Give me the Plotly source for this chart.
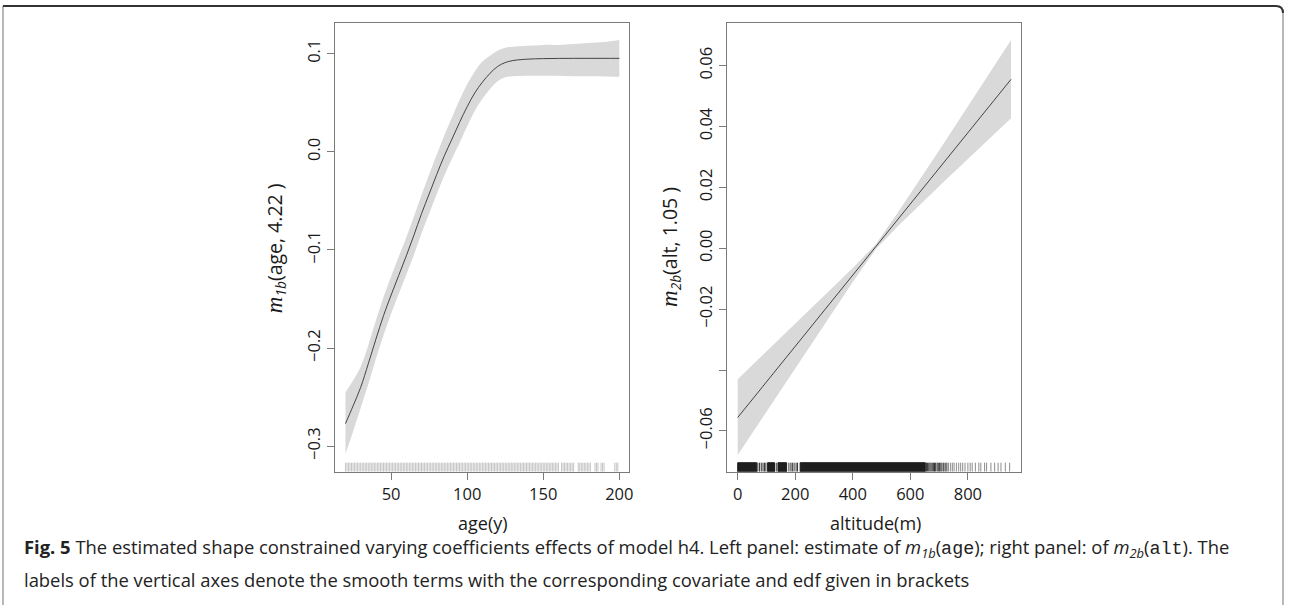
import plotly.graph_objects as go

# ---------------- data: left panel (age) ----------------
age = [20, 25, 30, 35, 40, 45, 50, 55, 60, 65, 70, 75, 80, 85, 90, 95, 100,
       105, 110, 115, 120, 125, 130, 140, 150, 160, 170, 180, 190, 200]
age_fit = [-0.277, -0.259, -0.240, -0.216, -0.191, -0.167, -0.146, -0.126, -0.106,
           -0.085, -0.063, -0.043, -0.023, -0.004, 0.013, 0.030, 0.046, 0.060, 0.071,
           0.080, 0.087, 0.091, 0.093, 0.0945, 0.095, 0.0952, 0.0953, 0.0953, 0.0953, 0.0953]
age_upper = [-0.245, -0.233, -0.219, -0.197, -0.172, -0.148, -0.127, -0.107, -0.087,
             -0.066, -0.044, -0.023, -0.003, 0.017, 0.035, 0.053, 0.069, 0.082, 0.092,
             0.098, 0.103, 0.106, 0.107, 0.108, 0.109, 0.109, 0.110, 0.111, 0.112, 0.114]
age_lower = [-0.308, -0.285, -0.261, -0.237, -0.211, -0.187, -0.165, -0.145, -0.125,
             -0.105, -0.083, -0.063, -0.043, -0.024, -0.007, 0.009, 0.026, 0.042, 0.054,
             0.064, 0.072, 0.076, 0.077, 0.0775, 0.0776, 0.0775, 0.077, 0.077, 0.0768, 0.0766]
# runs of consecutive observed (integer) ages in the rug
age_rug_runs = [(20, 160), (162, 170), (173, 181), (184, 186), (188, 190), (197, 199)]

# ---------------- data: right panel (altitude) ----------------
alt = [0, 240, 400, 480, 560, 720, 950]
alt_fit = [-0.0556, -0.0275, -0.0088, 0.0005, 0.0099, 0.0286, 0.0555]
alt_upper = [-0.0430, -0.0211, -0.0065, 0.0013, 0.0122, 0.0350, 0.0684]
alt_lower = [-0.0679, -0.0339, -0.0111, -0.0003, 0.0076, 0.0222, 0.0427]
# dense stretches of the altitude rug (solid black) and isolated ticks
alt_rug_spans = [(0, 66), (104, 128), (140, 170), (217, 652)]
alt_rug_ticks_dark = [70, 76, 82, 88, 93, 98, 134, 178, 185, 190, 196, 203, 208,
                      656, 660, 664, 668, 672, 676, 680, 684, 688, 693, 697, 701, 706,
                      710, 716, 721, 727]
alt_rug_ticks_light = [733, 740, 746, 752, 760, 768, 775, 782, 790, 800, 808,
                       815, 826, 838, 845, 858, 865, 880, 893, 905, 915, 930, 945]

age_xticks = [50, 100, 150, 200]
age_yticks = [-0.3, -0.2, -0.1, 0.0, 0.1]
age_yticktext = ["\u22120.3", "\u22120.2", "\u22120.1", "0.0", "0.1"]
alt_xticks = [0, 200, 400, 600, 800]
alt_yticks = [-0.06, -0.04, -0.02, 0.0, 0.02, 0.04, 0.06]
alt_yticktext = ["\u22120.06", " ", "\u22120.02", "0.00", "0.02", "0.04", "0.06"]

# ---------------- geometry helpers ----------------
W, H = 1290, 605
def px(x):
    return x / W
def py(y):
    return 1 - y / H

AGE_XR = [12.9, 206.4]
AGE_YR = [-0.326, 0.131]
ALT_XR = [-37, 985]
ALT_YR = [-0.0734, 0.0739]
RUG_FRAC = 9 / 448.4  # rug height as fraction of the plot height

BAND = "#d9d9d9"
LINE = "#444444"
FRAME = "#7a7a7a"
FONT = "Open Sans"

fig = go.Figure()

# left band + fit
fig.add_trace(go.Scatter(x=age, y=age_lower, mode="lines",
                         line=dict(width=0, shape="spline", color=BAND),
                         hoverinfo="skip", showlegend=False, xaxis="x", yaxis="y"))
fig.add_trace(go.Scatter(x=age, y=age_upper, mode="lines", fill="tonexty", fillcolor=BAND,
                         line=dict(width=0, shape="spline", color=BAND),
                         hoverinfo="skip", showlegend=False, xaxis="x", yaxis="y"))
fig.add_trace(go.Scatter(x=age, y=age_fit, mode="lines",
                         line=dict(color=LINE, width=1, shape="spline"),
                         showlegend=False, xaxis="x", yaxis="y"))
# left rug
ry0 = AGE_YR[0]
ry1 = AGE_YR[0] + RUG_FRAC * (AGE_YR[1] - AGE_YR[0])
rx, ryy = [], []
for a0, a1 in age_rug_runs:
    for a in range(a0, a1 + 1):
        rx += [a, a, None]
        ryy += [ry0, ry1, None]
fig.add_trace(go.Scatter(x=rx, y=ryy, mode="lines", line=dict(color="#c4c4c4", width=1),
                         hoverinfo="skip", showlegend=False, xaxis="x", yaxis="y"))

# right band + fit
fig.add_trace(go.Scatter(x=alt, y=alt_lower, mode="lines", line=dict(width=0, color=BAND),
                         hoverinfo="skip", showlegend=False, xaxis="x2", yaxis="y2"))
fig.add_trace(go.Scatter(x=alt, y=alt_upper, mode="lines", fill="tonexty", fillcolor=BAND,
                         line=dict(width=0, color=BAND),
                         hoverinfo="skip", showlegend=False, xaxis="x2", yaxis="y2"))
fig.add_trace(go.Scatter(x=alt, y=alt_fit, mode="lines",
                         line=dict(color=LINE, width=1),
                         showlegend=False, xaxis="x2", yaxis="y2"))
# right rug
sy0 = ALT_YR[0]
sy1 = ALT_YR[0] + RUG_FRAC * (ALT_YR[1] - ALT_YR[0])
sx, syy = [], []
for a0, a1 in alt_rug_spans:
    sx += [a0, a1, a1, a0, a0, None]
    syy += [sy0, sy0, sy1, sy1, sy0, None]
fig.add_trace(go.Scatter(x=sx, y=syy, mode="lines", fill="toself", fillcolor="#1e1e1e",
                         line=dict(color="#1e1e1e", width=1),
                         hoverinfo="skip", showlegend=False, xaxis="x2", yaxis="y2"))
for ticks, col in ((alt_rug_ticks_dark, "#333333"), (alt_rug_ticks_light, "#8c8c8c")):
    tx, tyy = [], []
    for a in ticks:
        tx += [a, a, None]
        tyy += [sy0, sy1, None]
    fig.add_trace(go.Scatter(x=tx, y=tyy, mode="lines", line=dict(color=col, width=1),
                             hoverinfo="skip", showlegend=False, xaxis="x2", yaxis="y2"))

axis_common = dict(showline=True, mirror=True, linecolor=FRAME, linewidth=1.3,
                   ticks="outside", ticklen=7, tickwidth=1.2, tickcolor=FRAME,
                   showgrid=False, zeroline=False,
                   tickfont=dict(family=FONT, size=16.5, color="#1a1a1a"))

fig.update_layout(
    width=W, height=H,
    margin=dict(l=0, r=0, t=0, b=0),
    paper_bgcolor="white", plot_bgcolor="white",
    xaxis=dict(domain=[px(335.7), px(631)], range=AGE_XR, tickvals=age_xticks,
               anchor="y", **axis_common),
    yaxis=dict(domain=[py(471.7), py(23.3)], range=AGE_YR, tickvals=age_yticks,
               ticktext=age_yticktext, tickangle=-90, anchor="x", **axis_common),
    xaxis2=dict(domain=[px(729.3), px(1024.3)], range=ALT_XR, tickvals=alt_xticks,
                anchor="y2", **axis_common),
    yaxis2=dict(domain=[py(471.7), py(23.3)], range=ALT_YR, tickvals=alt_yticks,
                ticktext=alt_yticktext, tickangle=-90, anchor="x2", **axis_common),
)

title_font = dict(family=FONT, size=18, color="#1a1a1a")
ytitle_font = dict(family=FONT, size=19.5, color="#1a1a1a")
mserif = "<span style='font-family:Liberation Serif;font-size:23px'><i>m</i></span>"
ann = [
    dict(text="age(y)", x=px(485), y=py(523), xref="paper", yref="paper",
         showarrow=False, font=title_font, xanchor="center", yanchor="middle"),
    dict(text="altitude(m)", x=px(878), y=py(523), xref="paper", yref="paper",
         showarrow=False, font=title_font, xanchor="center", yanchor="middle"),
    dict(text=mserif + "<sub><i>1b</i></sub>(age, 4.22 )", x=px(276), y=py(248),
         xref="paper", yref="paper", showarrow=False, font=ytitle_font, textangle=-90,
         xanchor="center", yanchor="middle"),
    dict(text=mserif + "<sub><i>2b</i></sub>(alt, 1.05 )", x=px(672), y=py(247),
         xref="paper", yref="paper", showarrow=False, font=ytitle_font, textangle=-90,
         xanchor="center", yanchor="middle"),
]
mono = "<span style='font-family:Liberation Mono'>"
cap1 = ("<b>Fig. 5</b> The estimated shape constrained varying coefficients effects of model h4. "
        "Left panel: estimate of <i>m</i><sub><i>1b</i></sub>(" + mono + "age</span>); "
        "right panel: of <i>m</i><sub><i>2b</i></sub>(" + mono + "alt</span>). The")
cap2 = ("labels of the vertical axes denote the smooth terms with the corresponding "
        "covariate and edf given in brackets")
cap_font = dict(family=FONT, size=18.4, color="#222222")
ann += [
    dict(text=cap1, x=px(22), y=py(548), xref="paper", yref="paper", showarrow=False,
         font=cap_font, xanchor="left", yanchor="middle", align="left"),
    dict(text=cap2, x=px(22), y=py(579), xref="paper", yref="paper", showarrow=False,
         font=cap_font, xanchor="left", yanchor="middle", align="left"),
]
fig.update_layout(annotations=ann)

# figure frame
r = 7
side_path = (f"M {px(3)},{py(605)} L {px(3)},{py(6)} "
             f"M {px(1287)},{py(6 + r)} L {px(1287)},{py(605)}")
top_path = (f"M {px(3)},{py(6)} L {px(1287 - r)},{py(6)} "
            f"Q {px(1287)},{py(6)} {px(1287)},{py(6 + r)}")
fig.add_shape(type="path", path=side_path, xref="paper", yref="paper",
              line=dict(color="#8a8a8a", width=1.2))
fig.add_shape(type="path", path=top_path, xref="paper", yref="paper",
              line=dict(color="#333333", width=2))

fig.write_html("out.html", config={"displayModeBar": False},
               post_script="document.body.style.margin='0';"
                           "document.body.style.overflow='hidden';")
